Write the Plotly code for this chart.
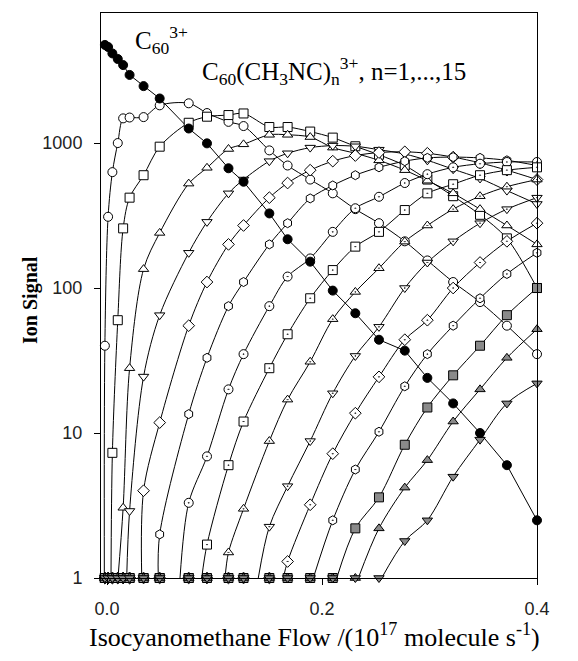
import plotly.graph_objects as go

# Isocyanomethane flow (10^17 molecule/s) at each measurement
flow = [-0.006, -0.002, 0.001, 0.005, 0.010, 0.015, 0.021, 0.034, 0.049, 0.076,
        0.093, 0.113, 0.127, 0.151, 0.168, 0.189, 0.210, 0.231, 0.253, 0.277,
        0.298, 0.322, 0.347, 0.372, 0.400]

# Ion signals; 1 marks signal at the detection floor
c60 = [5000, 4750, 4600, 4150, 3800, 3450, 2950, 2470, 2030, 1260, 995, 670, 541,
       327, 217, 152, 96, 67, 44, 37, 24, 16, 10, 6, 2.5]
n01 = [1, 40, 310, 630, 1000, 1480, 1500, 1510, 1820, 1880, 1610, 1400, 1310, 890,
       700, 560, 450, 350, 280, 210, 155, 110, 80, 55, 35]
n02 = [1, 1, 1, 7.3, 60, 258, 420, 600, 944, 1380, 1520, 1560, 1600, 1290, 1290,
       1200, 1090, 950, 830, 700, 560, 430, 320, 220, 100]
n03 = [1, 1, 1, 1, 1, 3.05, 28, 135, 240, 525, 675, 910, 980, 1140, 1140, 1100,
       930, 850, 760, 650, 550, 450, 350, 270, 200]
n04 = [1, 1, 1, 1, 1, 1, 2.9, 24.5, 65, 175, 286, 450, 560, 750, 850, 930, 960,
       950, 900, 840, 760, 660, 570, 470, 380]
n05 = [1, 1, 1, 1, 1, 1, 1, 4.0, 11.8, 55, 110, 200, 270, 420, 530, 650, 750, 820,
       860, 870, 850, 800, 730, 650, 560]
n06 = [1, 1, 1, 1, 1, 1, 1, 1, 2.0, 13.5, 33, 75, 110, 200, 280, 415, 510, 600,
       680, 750, 790, 800, 790, 760, 700]
n07 = [1, 1, 1, 1, 1, 1, 1, 1, 1, 3.3, 6.9, 20, 35, 75, 120, 160, 244, 355, 426,
       530, 610, 680, 720, 740, 740]
n08 = [1] * 10 + [1.7, 6.0, 12, 28, 48, 85, 133, 193, 244, 345, 450, 520, 600, 650, 680]
n09 = [1] * 11 + [1.5, 3.0, 8.8, 17, 31, 61, 94, 137, 209, 270, 350, 430, 500, 560]
n10 = [1] * 13 + [2.26, 4.3, 8.8, 18.8, 34, 54, 100, 150, 210, 280, 350, 420]
n11 = [1] * 14 + [1.3, 3.2, 7.2, 13.7, 24.4, 44, 60, 100, 150, 210, 280]
n12 = [1] * 16 + [2.5, 5.6, 10.2, 21, 35, 55, 85, 125, 175]
n13 = [1] * 17 + [2.2, 3.6, 8.3, 15, 25, 40, 65, 100]
n14 = [1] * 18 + [2.2, 4.2, 6.5, 12, 20, 33, 52]
n15 = [1] * 19 + [1.8, 2.5, 5, 9, 16, 22]

# Flow at which each fitted adduct curve rises off the floor (n = 1..15)
onset = [-0.0025, 0.0037, 0.0102, 0.0183, 0.0323, 0.0477, 0.0679, 0.0881,
         0.1098, 0.1407, 0.164, 0.1919, 0.2137, 0.2338, 0.2555]

adducts = [n01, n02, n03, n04, n05, n06, n07, n08, n09, n10, n11, n12, n13, n14, n15]

symbols = ["circle", "square", "triangle-up", "triangle-down", "diamond", "hexagon",
           "circle-dot", "square-dot", "triangle-up-dot", "triangle-down-dot",
           "diamond-dot", "hexagon-dot", "square", "triangle-up", "triangle-down"]
fills = ["white"] * 12 + ["#8a8a8a"] * 3

fig = go.Figure()

# fitted curves
line_style = dict(color="black", width=1, shape="spline", smoothing=0.9)
fig.add_trace(go.Scatter(x=flow, y=c60, mode="lines", line=dict(color="black", width=1),
                         hoverinfo="skip", showlegend=False))
for k, vals in enumerate(adducts):
    xs = [onset[k]] + [f for f, v in zip(flow, vals) if v > 1]
    ys = [1] + [v for v in vals if v > 1]
    fig.add_trace(go.Scatter(x=xs, y=ys, mode="lines", line=line_style,
                             hoverinfo="skip", showlegend=False))

# measured points
for k, vals in enumerate(adducts):
    fig.add_trace(go.Scatter(
        x=flow, y=vals, mode="markers", cliponaxis=False, showlegend=False,
        marker=dict(symbol=symbols[k], size=9, color=fills[k],
                    line=dict(color="black", width=1))))
fig.add_trace(go.Scatter(
    x=flow, y=c60, mode="markers", cliponaxis=False, showlegend=False,
    marker=dict(symbol="circle", size=9, color="black",
                line=dict(color="black", width=1))))

tick_font = dict(family="Liberation Sans, Arial, sans-serif", size=18, color="#222")
serif = "Liberation Serif, Times New Roman, serif"

fig.update_xaxes(range=[-0.0056, 0.4], tickvals=[0.0, 0.2, 0.4], ticktext=["0.0", "0.2", "0.4"],
                 ticks="outside", ticklen=6, tickcolor="black", tickwidth=1,
                 showline=True, linecolor="black", linewidth=1, mirror=True,
                 showgrid=False, zeroline=False, tickfont=tick_font, ticklabelstandoff=8)
fig.update_yaxes(type="log", range=[0, 3.897], tickvals=[1, 10, 100, 1000],
                 ticktext=["1", "10", "100", "1000"],
                 ticks="outside", ticklen=6, tickcolor="black", tickwidth=1,
                 showline=True, linecolor="black", linewidth=1, mirror=True,
                 showgrid=False, zeroline=False, tickfont=tick_font, ticklabelstandoff=8)

fig.update_layout(
    width=578, height=661,
    margin=dict(l=101, r=41, t=13, b=83),
    plot_bgcolor="white", paper_bgcolor="white",
    annotations=[
        dict(text="C<sub>60</sub><sup>3+</sup>", x=0.073, y=0.952, xref="paper", yref="paper",
             xanchor="left", yanchor="middle", showarrow=False,
             font=dict(family=serif, size=25, color="black")),
        dict(text="C<sub>60</sub>(CH<sub>3</sub>NC)<sub>n</sub><sup>3+</sup>, n=1,...,15",
             x=0.227, y=0.897, xref="paper", yref="paper",
             xanchor="left", yanchor="middle", showarrow=False,
             font=dict(family=serif, size=25, color="black")),
        dict(text="<b>Ion Signal</b>", x=-0.163, y=0.492, xref="paper", yref="paper",
             textangle=-90, xanchor="center", yanchor="middle", showarrow=False,
             font=dict(family=serif, size=20, color="black")),
        dict(text="Isocyanomethane Flow /(10<sup>17</sup> molecule s<sup>-1</sup>)",
             x=0.489, y=-0.101, xref="paper", yref="paper",
             xanchor="center", yanchor="middle", showarrow=False,
             font=dict(family=serif, size=26, color="black")),
    ],
)

fig.write_html("out.html")
